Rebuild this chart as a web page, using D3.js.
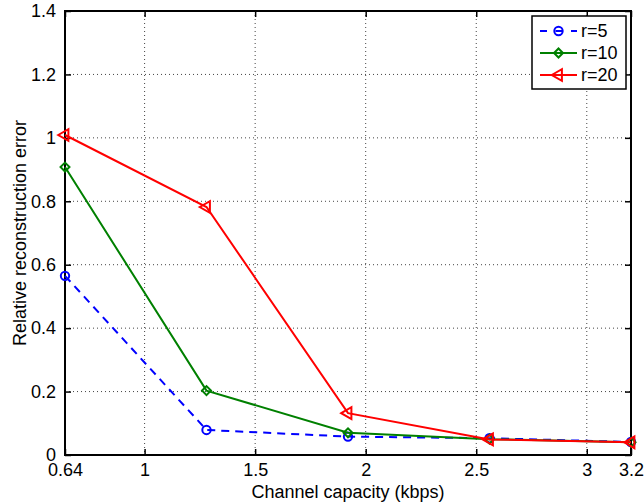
<!DOCTYPE html>
<html lang="en">
<head>
<meta charset="UTF-8">
<script src="https://d3js.org/d3.v7.min.js"></script>
<style>
    body { margin: 0; background: #fff; }
    text { font-family: "Liberation Sans", Arial, sans-serif; font-size: 18px; fill: #000; }
</style>
</head>
<body>
<svg id="canvas" width="644" height="504"></svg>
<script>
    // data
    const capacity = [0.64, 1.28, 1.92, 2.56, 3.2];
    const r5 = [0.565, 0.079, 0.058, 0.053, 0.041];
    const r10 = [0.908, 0.203, 0.070, 0.050, 0.040];
    const r20 = [1.009, 0.782, 0.132, 0.049, 0.040];
    const seriesNames = ["r=5", "r=10", "r=20"];
    const xTicks = [0.64, 1, 1.5, 2, 2.5, 3, 3.2];
    const yTicks = [0, 0.2, 0.4, 0.6, 0.8, 1, 1.2, 1.4];

    const series = [
        { name: seriesNames[0], values: r5, color: "#0000ff", dash: "8,6", marker: "circle" },
        { name: seriesNames[1], values: r10, color: "#008000", dash: null, marker: "diamond" },
        { name: seriesNames[2], values: r20, color: "#ff0000", dash: null, marker: "triangle" }
    ];

    let svg = d3.select("#canvas");
    let pLeft = 65, pRight = 631, pTop = 11, pBottom = 455;

    const xScale = d3.scaleLinear().domain([0.64, 3.2]).range([pLeft, pRight]);
    const yScale = d3.scaleLinear().domain([0, 1.4]).range([pBottom, pTop]);

    // dotted grid
    svg.append("g")
        .selectAll("line")
        .data(xTicks.filter(d => d > 0.64 && d < 3.2))
        .join("line")
        .attr("x1", d => xScale(d)).attr("x2", d => xScale(d))
        .attr("y1", pTop).attr("y2", pBottom)
        .attr("stroke", "#444").attr("stroke-width", 1)
        .attr("stroke-dasharray", "1,3");
    svg.append("g")
        .selectAll("line")
        .data(yTicks.filter(d => d > 0 && d < 1.4))
        .join("line")
        .attr("x1", pLeft).attr("x2", pRight)
        .attr("y1", d => yScale(d)).attr("y2", d => yScale(d))
        .attr("stroke", "#444").attr("stroke-width", 1)
        .attr("stroke-dasharray", "1,3");

    // axes, MATLAB style: ticks point inward
    let xAxis = d3.axisBottom(xScale).tickValues(xTicks).tickSize(-6).tickPadding(8)
        .tickFormat(d => d3.format("~g")(d));
    let yAxis = d3.axisLeft(yScale).tickValues(yTicks).tickSize(-6).tickPadding(9)
        .tickFormat(d => d3.format("~g")(d));

    svg.append("g").attr("transform", `translate(0,${pBottom})`).call(xAxis);
    svg.append("g").attr("transform", `translate(${pLeft},0)`).call(yAxis);
    svg.append("g").attr("transform", `translate(0,${pTop})`)
        .call(d3.axisTop(xScale).tickValues(xTicks).tickSize(-6).tickFormat(""));
    svg.append("g").attr("transform", `translate(${pRight},0)`)
        .call(d3.axisRight(yScale).tickValues(yTicks).tickSize(-6).tickFormat(""));

    svg.selectAll(".domain").remove();
    svg.selectAll(".tick line").attr("stroke", "#000").attr("stroke-width", 1.5);
    svg.selectAll(".tick text").attr("font-size", 18).attr("font-family", "'Liberation Sans', Arial, sans-serif");

    svg.append("rect")
        .attr("x", pLeft).attr("y", pTop)
        .attr("width", pRight - pLeft).attr("height", pBottom - pTop)
        .attr("fill", "none").attr("stroke", "#000").attr("stroke-width", 2);

    // lines + markers
    const lineGen = d3.line()
        .x((d, i) => xScale(capacity[i]))
        .y(d => yScale(d));

    function markerPath(type) {
        if (type === "circle") return d3.symbol(d3.symbolCircle, 55)();
        if (type === "diamond") return d3.symbol(d3.symbolSquare, 40)();
        return d3.symbol(d3.symbolTriangle, 60)();
    }
    function markerRotate(type) {
        if (type === "diamond") return 45;
        if (type === "triangle") return -90;
        return 0;
    }

    series.forEach(s => {
        let g = svg.append("g");
        g.append("path")
            .attr("d", lineGen(s.values))
            .attr("fill", "none")
            .attr("stroke", s.color)
            .attr("stroke-width", 2)
            .attr("stroke-dasharray", s.dash);
        g.selectAll("path.mk")
            .data(s.values)
            .join("path")
            .attr("class", "mk")
            .attr("d", markerPath(s.marker))
            .attr("transform", (d, i) => `translate(${xScale(capacity[i])},${yScale(d)}) rotate(${markerRotate(s.marker)})`)
            .attr("fill", "none")
            .attr("stroke", s.color)
            .attr("stroke-width", 2);
    });

    // axis labels
    svg.append("text")
        .attr("x", (pLeft + pRight) / 2).attr("y", 498)
        .attr("text-anchor", "middle")
        .text("Channel capacity (kbps)");
    svg.append("text")
        .attr("transform", `translate(26,${(pTop + pBottom) / 2}) rotate(-90)`)
        .attr("text-anchor", "middle")
        .text("Relative reconstruction error");

    // legend
    let legend = svg.append("g");
    legend.append("rect")
        .attr("x", 532).attr("y", 16).attr("width", 94).attr("height", 73)
        .attr("fill", "#fff").attr("stroke", "#000").attr("stroke-width", 1.5);
    let rows = legend.selectAll("g.row")
        .data(series)
        .join("g")
        .attr("class", "row")
        .attr("transform", (d, i) => `translate(0,${31 + i * 22})`);
    rows.append("line")
        .attr("x1", 540).attr("x2", 577)
        .attr("stroke", d => d.color).attr("stroke-width", 2)
        .attr("stroke-dasharray", d => d.dash ? "7,8.5" : null);
    rows.append("path")
        .attr("d", d => markerPath(d.marker))
        .attr("transform", d => `translate(558.5,0) rotate(${markerRotate(d.marker)})`)
        .attr("fill", "none").attr("stroke", d => d.color).attr("stroke-width", 2);
    rows.append("text")
        .attr("x", 581).attr("dy", "0.35em")
        .text(d => d.name);
</script>
</body>
</html>
